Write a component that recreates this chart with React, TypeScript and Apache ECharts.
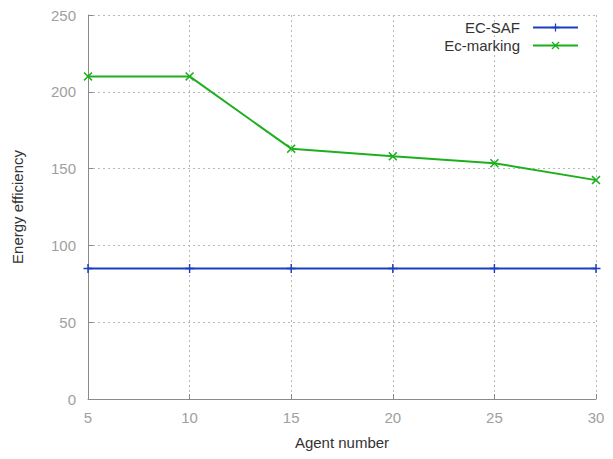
import React, { useEffect, useRef } from "react";
import * as echarts from "echarts";

const agentNumbers = [5, 10, 15, 20, 25, 30];
const ecSaf = [85, 85, 85, 85, 85, 85];
const ecMarking = [210, 210, 163, 158, 153.5, 142.5];
const yTicks = { min: 0, max: 250, interval: 50 };
const xTicks = { min: 5, max: 30, interval: 5 };

const PLUS = "path://M4.2,0 H5.8 V4.2 H10 V5.8 H5.8 V10 H4.2 V5.8 H0 V4.2 H4.2 Z";
const CROSS =
  "path://M0,1.2 L1.2,0 L5,3.8 L8.8,0 L10,1.2 L6.2,5 L10,8.8 L8.8,10 L5,6.2 L1.2,10 L0,8.8 L3.8,5 Z";

export default function App() {
  const ref = useRef<HTMLDivElement>(null);
  useEffect(() => {
    if (!ref.current) return;
    const chart = echarts.init(ref.current, null, { renderer: "svg" });
    const gray = "#8a8a8a";
    const font = "Liberation Sans";
    chart.setOption({
      animation: false,
      backgroundColor: "#fff",
      textStyle: { fontFamily: font },
      grid: { left: 88, right: 17, top: 15, bottom: 60, containLabel: false },
      legend: {
        orient: "vertical",
        right: 29,
        top: 15,
        align: "right",
        itemWidth: 45,
        itemHeight: 10,
        itemGap: 3,
        textStyle: { fontFamily: font, fontSize: 15, color: "#333", padding: [0, 8, 0, 0] },
        data: ["EC-SAF", "Ec-marking"],
      },
      xAxis: {
        type: "value",
        min: xTicks.min,
        max: xTicks.max,
        interval: xTicks.interval,
        name: "Agent number",
        nameLocation: "middle",
        nameGap: 36,
        nameTextStyle: { fontFamily: font, fontSize: 15, color: "#333" },
        axisLine: { show: true, lineStyle: { color: gray, width: 1 } },
        axisTick: { show: true, inside: true, length: 5, lineStyle: { color: gray } },
        axisLabel: { fontFamily: font, fontSize: 15, color: "#a0a0a0", margin: 11 },
        splitLine: { show: true, lineStyle: { color: "#b8b8b8", type: [2, 3], width: 1 } },
      },
      yAxis: {
        type: "value",
        min: yTicks.min,
        max: yTicks.max,
        interval: yTicks.interval,
        name: "Energy efficiency",
        nameLocation: "middle",
        nameGap: 63,
        nameTextStyle: { fontFamily: font, fontSize: 15, color: "#333" },
        axisLine: { show: true, lineStyle: { color: gray, width: 1 } },
        axisTick: { show: true, inside: true, length: 5, lineStyle: { color: gray } },
        axisLabel: { fontFamily: font, fontSize: 15, color: "#a0a0a0", margin: 12 },
        splitLine: { show: true, lineStyle: { color: "#b8b8b8", type: [2, 3], width: 1 } },
      },
      series: [
        {
          name: "EC-SAF",
          type: "line",
          data: agentNumbers.map((x, i) => [x, ecSaf[i]]),
          symbol: PLUS,
          symbolSize: 9,
          color: "#1a3fbf",
          lineStyle: { width: 2, color: "#1a3fbf" },
          itemStyle: { color: "#1a3fbf" },
        },
        {
          name: "Ec-marking",
          type: "line",
          data: agentNumbers.map((x, i) => [x, ecMarking[i]]),
          symbol: CROSS,
          symbolSize: 9,
          color: "#1cb01c",
          lineStyle: { width: 2, color: "#1cb01c" },
          itemStyle: { color: "#1cb01c" },
        },
      ],
    });
    return () => chart.dispose();
  }, []);
  return <div ref={ref} style={{ width: 613, height: 459, position: "absolute", left: 0, top: 0 }} />;
}
